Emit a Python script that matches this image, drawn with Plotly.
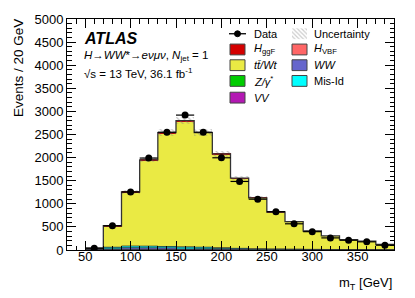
import numpy as np
import plotly.graph_objects as go

# ---------------- data ----------------
bin_centers = [60, 80, 100, 120, 140, 160, 180, 200, 220, 240, 260, 280, 300, 320, 340, 360, 380]
bin_width = 20

data_vals = [40, 525, 1256, 1990, 2550, 2920, 2550, 1996, 1484, 1100, 830, 567, 397, 262, 211, 177, 104]
data_err = [6, 23, 35, 45, 50, 54, 50, 45, 39, 33, 29, 24, 20, 16, 15, 13, 10]

vv = [3, 5, 6, 6, 5, 5, 4, 3, 3, 2, 2, 2, 1, 1, 1, 1, 1]
zgamma = [10, 10, 10, 8, 6, 5, 4, 3, 3, 2, 2, 1, 1, 1, 1, 1, 1]
ww = [10, 25, 35, 35, 35, 32, 28, 25, 20, 15, 12, 10, 8, 6, 5, 4, 3]
misid = [5, 20, 35, 35, 30, 28, 25, 20, 10, 8, 6, 5, 4, 3, 2, 2, 1]
ttbar = [10, 454, 1148, 1844, 2447, 2719, 2472, 2024, 1517, 1100, 800, 597, 397, 294, 217, 182, 113]
hvbf = [0, 1, 2, 2, 2, 1, 1, 1, 0, 0, 0, 0, 0, 0, 0, 0, 0]
hggf = [2, 10, 20, 20, 15, 10, 6, 4, 2, 1, 1, 1, 0, 0, 0, 0, 0]
unc = [5, 20, 40, 55, 70, 75, 70, 60, 45, 35, 28, 22, 17, 14, 11, 10, 8]

x_ticks = [50, 100, 150, 200, 250, 300, 350]
y_ticks = [0, 500, 1000, 1500, 2000, 2500, 3000, 3500, 4000, 4500, 5000]

# ---------------- figure ----------------
W, H = 415, 298
L, R, T, B = 67, 394, 15, 250
FONT = "Liberation Sans, Arial, Helvetica, sans-serif"


def px(x):
    return (x - L) / (R - L)


def py(y):
    return (B - y) / (B - T)


def step_xy(heights):
    xs, ys = [], []
    for c, t in zip(bin_centers, heights):
        xs += [c - bin_width / 2, c + bin_width / 2]
        ys += [t, t]
    return xs, ys


fig = go.Figure()

components = [
    ("VV", vv, "#b318b3"),
    ("Z", zgamma, "#00cc00"),
    ("WW", ww, "#6666cc"),
    ("MisId", misid, "#00ffff"),
    ("ttbar", ttbar, "#eaea44"),
    ("HVBF", hvbf, "#ff6666"),
    ("HggF", hggf, "#d40000"),
]

base = np.zeros(len(bin_centers))
bounds = []
for name, vals, col in components:
    v = np.array(vals, dtype=float)
    fig.add_trace(go.Bar(
        x=bin_centers, y=v, base=base, width=bin_width,
        marker=dict(color=col, line=dict(width=0)),
        showlegend=False, hoverinfo="skip",
    ))
    base = base + v
    bounds.append(base.copy())

total = base
u = np.array(unc, dtype=float)

# thin boundary lines between the small backgrounds
for bnd in bounds[:4]:
    sx, sy = step_xy(bnd)
    fig.add_trace(go.Scatter(x=sx, y=sy, mode="lines",
                             line=dict(color="#333333", width=0.8, shape="hv"),
                             showlegend=False, hoverinfo="skip"))

# uncertainty band
fig.add_trace(go.Bar(
    x=bin_centers, y=2 * u, base=total - u, width=bin_width,
    marker=dict(color="rgba(0,0,0,0)", line=dict(width=0),
                pattern=dict(shape="\\", fgcolor="#888888", bgcolor="rgba(0,0,0,0)",
                             size=4, solidity=0.3)),
    showlegend=False, hoverinfo="skip",
))

# stack outline step
sx, sy = step_xy(total)
fig.add_trace(go.Scatter(x=sx, y=sy, mode="lines",
                         line=dict(color="#333333", width=1.3, shape="hv"),
                         showlegend=False, hoverinfo="skip"))

# data
fig.add_trace(go.Scatter(
    x=bin_centers, y=data_vals, mode="markers",
    marker=dict(color="black", size=7),
    error_y=dict(type="data", array=data_err, color="black", thickness=1.2, width=0),
    error_x=dict(type="data", array=[bin_width / 2] * len(bin_centers), color="black",
                 thickness=1.2, width=0),
    showlegend=False, hoverinfo="skip",
))

# ---------------- legend ----------------
rows = [30, 46, 62, 78, 95]
c1_box, c2_box = 230, 292
bw, bh = 15, 11
c1_txt, c2_txt = 252, 312

leg_items = [
    (0, 1, "#d40000", "<i>H</i><sub>ggF</sub>"),
    (0, 2, "#eaea44", "<i>t</i><i>t̄/Wt</i>"),
    (0, 3, "#00cc00", "<i>Z/γ</i><sup>*</sup>"),
    (0, 4, "#b318b3", "<i>VV</i>"),
    (1, 1, "#ff6666", "<i>H</i><sub>VBF</sub>"),
    (1, 2, "#6666cc", "<i>WW</i>"),
    (1, 3, "#00ffff", "Mis-Id"),
]

shapes = []
annotations = []
for col, r, color, label in leg_items:
    bx = c1_box if col == 0 else c2_box
    tx = c1_txt if col == 0 else c2_txt
    yc = rows[r]
    shapes.append(dict(type="rect", xref="paper", yref="paper",
                       x0=px(bx), x1=px(bx + bw), y0=py(yc + bh / 2), y1=py(yc - bh / 2),
                       fillcolor=color, line=dict(color="#444444", width=1)))
    annotations.append(dict(x=px(tx), y=py(yc), xref="paper", yref="paper",
                            xanchor="left", yanchor="middle", showarrow=False,
                            text=label, font=dict(family=FONT, size=11, color="black")))

# Data legend entry
shapes.append(dict(type="line", xref="paper", yref="paper",
                   x0=px(229), x1=px(246), y0=py(rows[0]), y1=py(rows[0]),
                   line=dict(color="black", width=1.3)))
shapes.append(dict(type="circle", xref="paper", yref="paper",
                   x0=px(234.5), x1=px(240.5), y0=py(rows[0] + 3), y1=py(rows[0] - 3),
                   fillcolor="black", line=dict(color="black", width=1)))
annotations.append(dict(x=px(c1_txt), y=py(rows[0]), xref="paper", yref="paper",
                        xanchor="left", yanchor="middle", showarrow=False,
                        text="Data", font=dict(family=FONT, size=11, color="black")))
# Uncertainty legend box (hatched) via overlay axes in pixel units
fig.add_trace(go.Scatter(
    x=[c2_box, c2_box + bw, c2_box + bw, c2_box, c2_box],
    y=[rows[0] - bh / 2, rows[0] - bh / 2, rows[0] + bh / 2, rows[0] + bh / 2, rows[0] - bh / 2],
    xaxis="x2", yaxis="y2", mode="lines", line=dict(width=0),
    fill="toself", fillcolor="rgba(0,0,0,0)",
    fillpattern=dict(shape="\\", fgcolor="#999999", bgcolor="white", size=3, solidity=0.4),
    showlegend=False, hoverinfo="skip",
))
annotations.append(dict(x=px(c2_txt), y=py(rows[0]), xref="paper", yref="paper",
                        xanchor="left", yanchor="middle", showarrow=False,
                        text="Uncertainty", font=dict(family=FONT, size=11, color="black")))

# ATLAS labels
annotations.append(dict(x=px(82), y=py(35), xref="paper", yref="paper",
                        xanchor="left", yanchor="middle", showarrow=False,
                        text="<b><i>ATLAS</i></b>", font=dict(family=FONT, size=16, color="black")))
annotations.append(dict(x=px(82), y=py(53), xref="paper", yref="paper",
                        xanchor="left", yanchor="middle", showarrow=False,
                        text="<i>H</i>→<i>WW</i>*→<i>eνμν</i>, <i>N</i><sub>jet</sub> = 1",
                        font=dict(family=FONT, size=11.5, color="black")))
annotations.append(dict(x=px(82), y=py(70), xref="paper", yref="paper",
                        xanchor="left", yanchor="middle", showarrow=False,
                        text="√s = 13 TeV, 36.1 fb<sup>-1</sup>",
                        font=dict(family=FONT, size=11.5, color="black")))

# axis titles
annotations.append(dict(x=px(18), y=py(13), xref="paper", yref="paper",
                        xanchor="center", yanchor="top", showarrow=False, textangle=-90,
                        text="Events / 20 GeV", font=dict(family=FONT, size=13.5, color="black")))
annotations.append(dict(x=px(394), y=py(284), xref="paper", yref="paper",
                        xanchor="right", yanchor="middle", showarrow=False,
                        text="m<sub>T</sub> [GeV]", font=dict(family=FONT, size=13, color="black")))

fig.update_layout(
    width=W, height=H,
    margin=dict(l=L, r=W - R, t=T, b=H - B, pad=0),
    paper_bgcolor="white", plot_bgcolor="white",
    barmode="overlay", bargap=0,
    showlegend=False,
    shapes=shapes, annotations=annotations,
    font=dict(family=FONT, size=13, color="black"),
    xaxis=dict(range=[30, 390], tickvals=x_ticks, ticktext=[str(v) for v in x_ticks],
               ticks="inside", ticklen=9, tickwidth=1, tickcolor="black",
               minor=dict(dtick=10, tick0=0, ticks="inside", ticklen=4.5, tickcolor="black"),
               showline=True, linecolor="black", linewidth=1, mirror="ticks",
               showgrid=False, zeroline=False, ticklabelstandoff=-6,
               tickfont=dict(family=FONT, size=13)),
    yaxis=dict(range=[0, 5000], tickvals=y_ticks, ticktext=[str(v) for v in y_ticks],
               ticks="inside", ticklen=9, tickwidth=1, tickcolor="black",
               minor=dict(dtick=100, tick0=0, ticks="inside", ticklen=4.5, tickcolor="black"),
               showline=True, linecolor="black", linewidth=1, mirror="ticks",
               showgrid=False, zeroline=False,
               tickfont=dict(family=FONT, size=13)),
    xaxis2=dict(range=[L, R], overlaying="x", visible=False, fixedrange=True),
    yaxis2=dict(range=[B, T], overlaying="y", visible=False, fixedrange=True),
)

fig.write_html("out.html", config={"displayModeBar": False},
               post_script="document.body.style.margin='0px';")
